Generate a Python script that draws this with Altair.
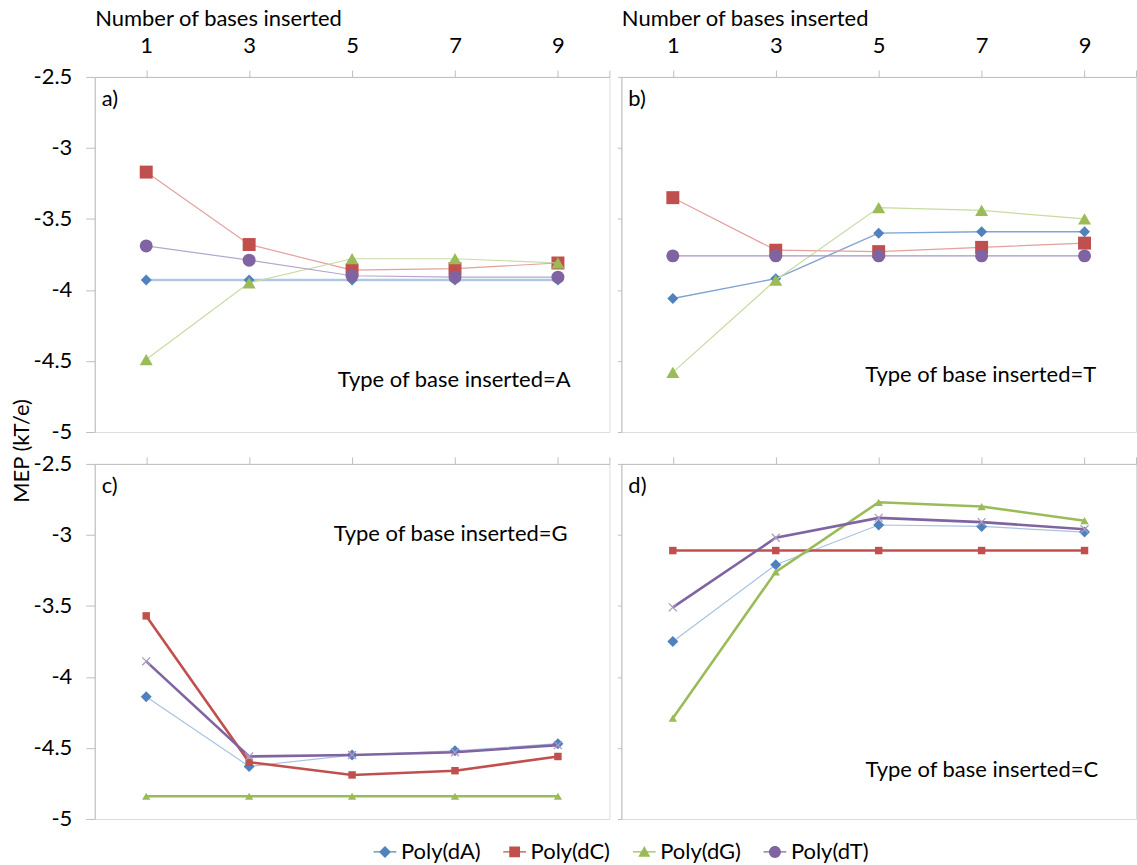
import altair as alt
import pandas as pd

# ---- data: MEP (kT/e) against number of bases inserted -------------------
bases_inserted = [1, 3, 5, 7, 9]
series_names = ["Poly(dA)", "Poly(dC)", "Poly(dG)", "Poly(dT)"]

# a) type of base inserted = A
a_dA = [-3.93, -3.93, -3.93, -3.93, -3.93]
a_dC = [-3.17, -3.68, -3.86, -3.85, -3.81]
a_dG = [-4.49, -3.95, -3.78, -3.78, -3.81]
a_dT = [-3.69, -3.79, -3.90, -3.91, -3.91]

# b) type of base inserted = T
b_dA = [-4.06, -3.92, -3.60, -3.59, -3.59]
b_dC = [-3.35, -3.72, -3.73, -3.70, -3.67]
b_dG = [-4.58, -3.93, -3.42, -3.44, -3.50]
b_dT = [-3.76, -3.76, -3.76, -3.76, -3.76]

# c) type of base inserted = G
c_dA = [-4.14, -4.63, -4.55, -4.52, -4.47]
c_dC = [-3.57, -4.60, -4.69, -4.66, -4.56]
c_dG = [-4.84, -4.84, -4.84, -4.84, -4.84]
c_dT = [-3.89, -4.56, -4.55, -4.53, -4.48]

# d) type of base inserted = C
d_dA = [-3.75, -3.21, -2.93, -2.94, -2.98]
d_dC = [-3.11, -3.11, -3.11, -3.11, -3.11]
d_dG = [-4.29, -3.26, -2.77, -2.80, -2.90]
d_dT = [-3.51, -3.02, -2.88, -2.91, -2.96]

y_ticks = [-5, -4.5, -4, -3.5, -3, -2.5]
x_ticks = [1, 3, 5, 7, 9, 10]

# ---- styling --------------------------------------------------------------
FONT = "Lato"
FS = 22
TXT = "#000000"
GREY = "#BFBFBF"
W, H = 516, 356

marker_colors = ["#4F81BD", "#C0504D", "#9BBB59", "#8064A2"]
X_PATH = "M-1,-1L1,1M-1,1L1,-1"

style_a = [
    dict(line="#AFC6E4", width=2.4, shape="diamond", size=121, fill="#4F81BD"),
    dict(line="#E3A09E", width=1.2, shape="square", size=169, fill="#C0504D"),
    dict(line="#C7DBA2", width=1.2, shape="triangle-up", size=170, fill="#9BBB59"),
    dict(line="#B5A6CC", width=1.2, shape="circle", size=169, fill="#8064A2"),
]
style_b = [
    dict(line="#7FA3D3", width=1.4, shape="diamond", size=121, fill="#4F81BD"),
    dict(line="#E3A09E", width=1.2, shape="square", size=169, fill="#C0504D"),
    dict(line="#C7DBA2", width=1.2, shape="triangle-up", size=170, fill="#9BBB59"),
    dict(line="#A693C4", width=1.2, shape="circle", size=169, fill="#8064A2"),
]
style_bold = [
    dict(line="#A9C2E2", width=1.2, shape="diamond", size=121, fill="#4F81BD"),
    dict(line="#C0504D", width=2.6, shape="square", size=56, fill="#C0504D"),
    dict(line="#9BBB59", width=2.6, shape="triangle-up", size=70, fill="#9BBB59"),
    dict(line="#8064A2", width=2.6, shape=X_PATH, size=64, stroke="#A99BC4"),
]

# legend symbols: marker with a short line through it
BAR = "M-1.9,-0.09H1.9V0.09H-1.9Z"
legend_shapes = [
    BAR + "M0,-1L1,0L0,1L-1,0Z",
    BAR + "M-0.9,-0.9H0.9V0.9H-0.9Z",
    BAR + "M0,-1L1,0.8H-1Z",
    BAR + "M-1,0A1,1 0 1,1 1,0A1,1 0 1,1 -1,0Z",
]


def make_panel(tag, note, note_x, note_y, values, styles, top_labels, left_labels, extra=()):
    x_axis = alt.Axis(
        orient="top", values=x_ticks, labels=top_labels,
        labelExpr="datum.value == 10 ? '' : datum.label",
        domainColor=GREY, tickColor=GREY, tickSize=7, grid=False,
        labelFont=FONT, labelFontSize=FS, labelColor=TXT, labelPadding=12,
        titleFont=FONT, titleFontSize=FS, titleFontWeight="normal", titleColor=TXT,
        titleAnchor="start", titleAlign="left", titlePadding=5,
    )
    y_axis = alt.Axis(
        orient="left", values=y_ticks, labels=left_labels,
        labelExpr="'' + datum.value",
        domainColor=GREY, tickColor=GREY, tickSize=9 if left_labels else 4, grid=False,
        labelFont=FONT, labelFontSize=FS, labelColor=TXT, labelPadding=14,
    )
    x_enc = alt.X("n:Q", scale=alt.Scale(domain=[0, 10], nice=False, zero=False),
                  axis=x_axis, title=("Number of bases inserted" if top_labels else None))
    y_enc = alt.Y("mep:Q", scale=alt.Scale(domain=[-5, -2.5], nice=False, zero=False),
                  axis=y_axis, title=None)

    layers = []
    for vals, st in zip(values, styles):
        df = pd.DataFrame({"n": bases_inserted, "mep": vals})
        base = alt.Chart(df).encode(x=x_enc, y=y_enc)
        layers.append(base.mark_line(color=st["line"], strokeWidth=st["width"]))
        if "fill" in st:
            pts = base.mark_point(shape=st["shape"], size=st["size"], filled=True,
                                  color=st["fill"], opacity=1, strokeWidth=0)
        else:
            pts = base.mark_point(shape=st["shape"], size=st["size"], filled=False,
                                  color=st["stroke"], opacity=1, strokeWidth=1.3)
        layers.append(pts)

    tag_layer = alt.Chart(pd.DataFrame({"t": [tag]})).mark_text(
        align="left", baseline="middle", font=FONT, fontSize=FS, color=TXT
    ).encode(x=alt.value(7), y=alt.value(22), text="t:N")
    note_layer = alt.Chart(pd.DataFrame({"t": [note]})).mark_text(
        align="right", baseline="middle", font=FONT, fontSize=FS, color=TXT
    ).encode(x=alt.value(note_x), y=alt.value(note_y), text="t:N")
    layers += [tag_layer, note_layer] + list(extra)
    return alt.layer(*layers).properties(width=W, height=H)


y_title = alt.Chart(pd.DataFrame({"t": ["MEP (kT/e)"]})).mark_text(
    angle=270, align="center", baseline="middle", font=FONT, fontSize=FS, color=TXT
).encode(x=alt.value(-73), y=alt.value(375), text="t:N")

legend_props = dict(
    orient="none", legendX=280, legendY=766, direction="horizontal", title=None,
    labelFont=FONT, labelFontSize=FS, labelColor=TXT, labelOffset=5,
    symbolSize=144, symbolStrokeWidth=0, symbolOpacity=1, columnPadding=22,
)
legend_layer = alt.Chart(pd.DataFrame({"series": series_names})).transform_filter(
    "false"
).mark_point(filled=True, opacity=1).encode(
    x=alt.value(0), y=alt.value(0),
    color=alt.Color("series:N", scale=alt.Scale(domain=series_names, range=marker_colors),
                    legend=alt.Legend(**legend_props)),
    shape=alt.Shape("series:N", scale=alt.Scale(domain=series_names, range=legend_shapes),
                    legend=alt.Legend(**legend_props)),
)

pa = make_panel("a)", "Type of base inserted=A", 477, 304,
                [a_dA, a_dC, a_dG, a_dT], style_a, True, True, extra=[y_title])
pb = make_panel("b)", "Type of base inserted=T", 476, 299,
                [b_dA, b_dC, b_dG, b_dT], style_b, True, False)
pc = make_panel("c)", "Type of base inserted=G", 474, 70,
                [c_dA, c_dC, c_dG, c_dT], style_bold, False, True)
pd_ = make_panel("d)", "Type of base inserted=C", 478, 307,
                 [d_dA, d_dC, d_dG, d_dT], style_bold, False, False, extra=[legend_layer])

chart = alt.concat(
    pa, pb, pc, pd_, columns=2, spacing={"row": 32, "column": 12}, bounds="flush"
).properties(
    padding={"left": 10, "top": 5, "right": 0, "bottom": 0}
).configure_view(strokeWidth=0).configure(background="white")

chart.save("out.html", embed_options={"renderer": "svg", "actions": False})
